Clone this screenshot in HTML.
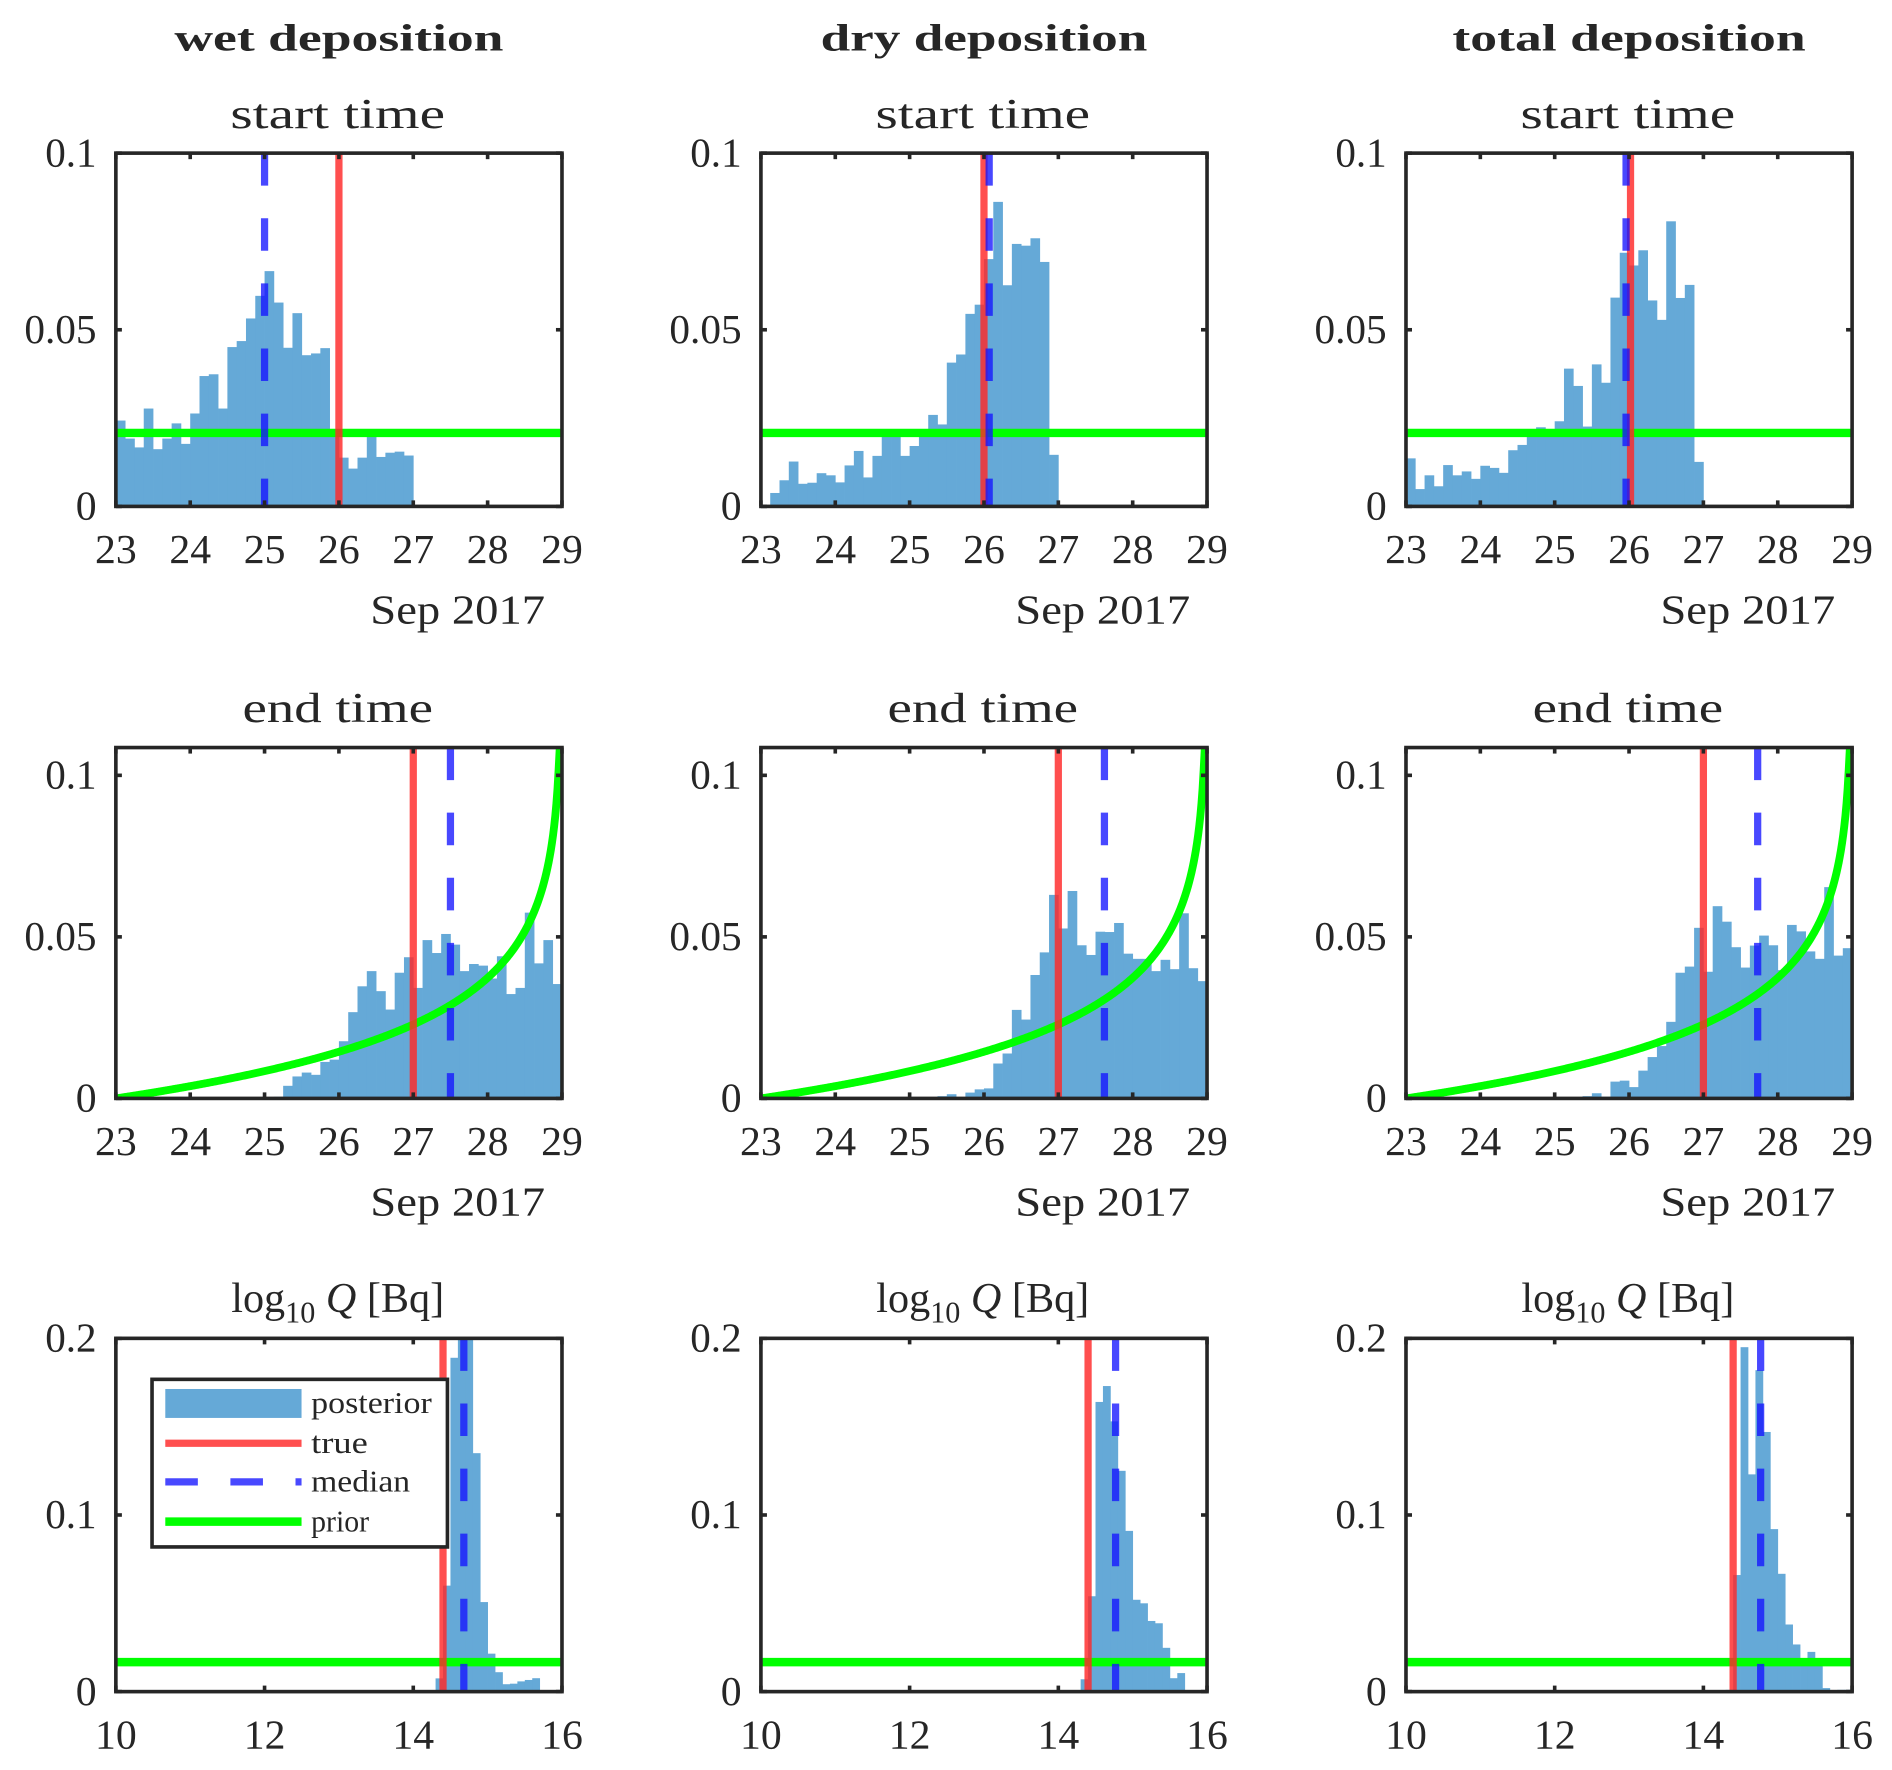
<!DOCTYPE html>
<html><head><meta charset="utf-8"><title>Deposition posterior histograms</title>
<style>
html,body{margin:0;padding:0;background:#fff;}
svg{display:block;}
text{font-family:"Liberation Serif","DejaVu Serif",serif;fill:#262626;}
</style></head>
<body>
<svg id="fig" width="1892" height="1770" viewBox="0 0 1569 1468" xmlns="http://www.w3.org/2000/svg"></svg>
<script>
// ---------- data ----------
const columnTitles = ["wet deposition", "dry deposition", "total deposition"];
const startBinStart = 23, startBinWidth = 0.125;
const startWet = [0.0243,0.0192,0.0167,0.0277,0.0162,0.0192,0.0235,0.0177,0.0263,0.0369,0.0374,0.0277,0.0451,0.0468,0.0532,0.0596,0.0666,0.0577,0.0449,0.0547,0.0428,0.0433,0.0448,0.021,0.0138,0.0107,0.0138,0.0217,0.014,0.0152,0.0155,0.0144];
const startDry = [0,0.0038,0.0074,0.0127,0.0064,0.0067,0.0094,0.0088,0.0068,0.0116,0.0157,0.0082,0.0143,0.0198,0.0198,0.0143,0.0171,0.0217,0.0259,0.0232,0.0407,0.043,0.0545,0.0571,0.07,0.0862,0.0626,0.0743,0.0738,0.0759,0.0692,0.0146];
const startTotal = [0.0136,0.0049,0.0088,0.0057,0.0117,0.0088,0.0099,0.0078,0.0115,0.0109,0.0095,0.0159,0.0174,0.0208,0.0224,0.0215,0.0241,0.039,0.0341,0.0226,0.0402,0.035,0.0591,0.0718,0.0682,0.0725,0.0583,0.0528,0.0807,0.059,0.0627,0.0126];
const startTrue = [26.0, 26.0, 26.02];
const startMedian = [25.0, 26.07, 25.96];
const startPrior = [0.0208, 0.0208, 0.0208];

const endBinStart = 25, endBinWidth = 0.125;
const endWet = [0.0003,0.0005,0.0039,0.0068,0.008,0.0073,0.0113,0.012,0.0177,0.0267,0.0347,0.0394,0.0332,0.0275,0.0389,0.0437,0.0342,0.049,0.045,0.0509,0.0476,0.0394,0.0416,0.0411,0.0371,0.044,0.0323,0.0342,0.0575,0.0418,0.049,0.0354];
const endDry = [0,0.0002,0.0003,0.0007,0.0013,0.0004,0.0018,0.0028,0.0031,0.0108,0.0139,0.0274,0.0244,0.0382,0.0452,0.063,0.0526,0.0642,0.0474,0.0444,0.0516,0.0515,0.0543,0.0448,0.0432,0.0432,0.0394,0.0429,0.04,0.0573,0.0403,0.0363];
const endTotal = [0,0.0002,0.0003,0.0007,0.0016,0.0005,0.0052,0.0055,0.0035,0.0086,0.0128,0.0162,0.0237,0.0389,0.0408,0.0528,0.0392,0.0595,0.0547,0.0468,0.0405,0.0473,0.0504,0.0474,0.0397,0.0537,0.0517,0.0455,0.0432,0.0654,0.0442,0.0465];
const endTrue = [27.0, 27.0, 27.0];
const endMedian = [27.5, 27.62, 27.73];

const qBinStart = 14.3, qBinWidth = 0.1;
const qWet = [0.0075,0.06,0.189,0.21,0.21,0.135,0.0507,0.0215,0.011,0.0042,0.0045,0.0058,0.0066,0.0076];
const qDry = [0.007,0.054,0.164,0.173,0.153,0.125,0.091,0.052,0.05,0.04,0.0387,0.0248,0.0076,0.0105];
const qTotal = [0.001,0.066,0.195,0.123,0.182,0.147,0.092,0.0667,0.038,0.0267,0.018,0.0225,0.016,0.002,0.0005,0.001,0.001];
const qTrue = [14.4, 14.4, 14.4];
const qMedian = [14.68, 14.77, 14.77];
const qPrior = [0.0167, 0.0167, 0.0167];

const dayTicks = [23,24,25,26,27,28,29];
const qTicks = [10,12,14,16];
const startYTicks = [0, 0.05, 0.1];
const startYLabels = ["0", "0.05", "0.1"];
const endYTicks = [0, 0.05, 0.1];
const endYLabels = ["0", "0.05", "0.1"];
const qYTicks = [0, 0.1, 0.2];
const qYLabels = ["0", "0.1", "0.2"];

// ---------- drawing ----------
const NS = "http://www.w3.org/2000/svg";
const svg = document.getElementById("fig");
function mk(tag, attrs, parent) {
  const e = document.createElementNS(NS, tag);
  for (const k in attrs) e.setAttribute(k, attrs[k]);
  (parent || svg).appendChild(e);
  return e;
}
function labelLen(s) {
  let w = 0;
  for (const ch of s) w += (ch === ".") ? 8 : 17.3;
  return w;
}
const colX = [96, 631, 1166], W = 370;
const rowTop = [127, 620, 1110], rowBot = [420, 911, 1403];
const HIST = "#65a9d7", RED = "rgba(255,40,40,0.82)", BLUE = "rgba(20,20,255,0.78)", GREEN = "#00ff00", AX = "#262626";
const titleLens = [273, 271, 293];

columnTitles.forEach((t, c) => {
  const el = mk("text", {x: colX[c] + W / 2, y: 42, "text-anchor": "middle", "font-size": 32, "font-weight": "bold", textLength: titleLens[c], lengthAdjust: "spacingAndGlyphs"});
  
  
  el.textContent = t;
});

function panel(c, r, opts) {
  const x0 = colX[c], x1 = x0 + W, yT = rowTop[r], yB = rowBot[r];
  const sx = v => x0 + (v - opts.xmin) / (opts.xmax - opts.xmin) * W;
  const sy = v => yB - Math.min(v, opts.ymax) / opts.ymax * (yB - yT);
  const g = mk("g", {});
  
  
  // title
  let tt;
  if (opts.log) {
    tt = mk("text", {x: x0 + W / 2 - 1, y: yT - 22, "text-anchor": "middle", "font-size": 35}, g);
    tt.innerHTML = 'log<tspan font-size="25" dy="9">10</tspan><tspan dy="-9"> </tspan><tspan font-style="italic">Q</tspan> [Bq]';
  } else {
    tt = mk("text", {x: x0 + W / 2 - 1, y: yT - 21, "text-anchor": "middle", "font-size": 35, textLength: opts.titleLen, lengthAdjust: "spacingAndGlyphs"}, g);
    tt.textContent = opts.title;
  }
  
  
  // clip
  const cid = "clip" + c + r;
  const cp = mk("clipPath", {id: cid}, g);
  mk("rect", {x: x0, y: yT, width: W, height: yB - yT}, cp);
  const plot = mk("g", {"clip-path": "url(#" + cid + ")"}, g);
  opts.bins.forEach((v, i) => {
    if (v <= 0) return;
    const a = opts.binStart + i * opts.binWidth, b = a + opts.binWidth;
    const bar = mk("rect", {x: sx(a), y: sy(v), width: sx(b) - sx(a) + 0.3, height: yB - sy(v), fill: HIST}, plot);
    
    
  });
  let pr;
  if (opts.priorCurve) {
    let d = "";
    for (let k = 0; k <= 400; k++) {
      const t = opts.xmin + (opts.xmax - opts.xmin) * k / 400 * 0.99999;
      d += (k ? "L" : "M") + sx(t).toFixed(2) + " " + sy(opts.priorCurve(t)).toFixed(2);
    }
    pr = mk("path", {d: d, fill: "none", stroke: GREEN, "stroke-width": 6.5}, plot);
  } else {
    pr = mk("line", {x1: x0, x2: x1, y1: sy(opts.prior), y2: sy(opts.prior), stroke: GREEN, "stroke-width": 7}, plot);
  }
  
  
  const tr = mk("line", {x1: sx(opts.trueV), x2: sx(opts.trueV), y1: yT, y2: yB, stroke: RED, "stroke-width": 6}, plot);
  
  
  const md = mk("line", {x1: sx(opts.median), x2: sx(opts.median), y1: yT, y2: yB, stroke: BLUE, "stroke-width": 6, "stroke-dasharray": "27 27"}, plot);
  
  
  const box = mk("rect", {x: x0, y: yT, width: W, height: yB - yT, fill: "none", stroke: AX, "stroke-width": 3}, g);
  
  
  opts.xticks.forEach(v => {
    const X = sx(v);
    mk("line", {x1: X, x2: X, y1: yB, y2: yB - 5, stroke: AX, "stroke-width": 3}, g);
    mk("line", {x1: X, x2: X, y1: yT, y2: yT + 5, stroke: AX, "stroke-width": 3}, g);
    const s = String(v);
    const lb = mk("text", {x: X, y: yB + 47, "text-anchor": "middle", "font-size": 34, textLength: labelLen(s), lengthAdjust: "spacingAndGlyphs"}, g);
    
    
    lb.textContent = s;
  });
  opts.yticks.forEach((v, i) => {
    const Y = sy(v);
    mk("line", {x1: x0, x2: x0 + 5, y1: Y, y2: Y, stroke: AX, "stroke-width": 3}, g);
    mk("line", {x1: x1, x2: x1 - 5, y1: Y, y2: Y, stroke: AX, "stroke-width": 3}, g);
    const s = opts.ylabels[i];
    const lb = mk("text", {x: x0 - 16, y: Y + 11, "text-anchor": "end", "font-size": 34, textLength: labelLen(s), lengthAdjust: "spacingAndGlyphs"}, g);
    
    
    lb.textContent = s;
  });
  if (opts.dateLabel) {
    const dl = mk("text", {x: x0 + 356, y: yB + 97, "text-anchor": "end", "font-size": 34, textLength: 145, lengthAdjust: "spacingAndGlyphs"}, g);
    
    
    dl.textContent = "Sep 2017";
  }
}

const startSets = [startWet, startDry, startTotal];
const endSets = [endWet, endDry, endTotal];
const qSets = [qWet, qDry, qTotal];
const names = ["wet", "dry", "total"];
const endPriorScale = endBinWidth / 6;
for (let c = 0; c < 3; c++) {
  panel(c, 0, {name: names[c] + "-start-time-panel", title: "start time", titleLen: 178, xmin: 23, xmax: 29, ymax: 0.1,
    bins: startSets[c], binStart: startBinStart, binWidth: startBinWidth, prior: startPrior[c],
    trueV: startTrue[c], median: startMedian[c], xticks: dayTicks, yticks: startYTicks, ylabels: startYLabels, dateLabel: true});
  panel(c, 1, {name: names[c] + "-end-time-panel", title: "end time", titleLen: 158, xmin: 23, xmax: 29, ymax: 0.1086,
    bins: endSets[c], binStart: endBinStart, binWidth: endBinWidth,
    priorCurve: t => endPriorScale * Math.log(6 / (29 - t)),
    trueV: endTrue[c], median: endMedian[c], xticks: dayTicks, yticks: endYTicks, ylabels: endYLabels, dateLabel: true});
  panel(c, 2, {name: names[c] + "-log-q-panel", log: true, xmin: 10, xmax: 16, ymax: 0.2,
    bins: qSets[c], binStart: qBinStart, binWidth: qBinWidth, prior: qPrior[c],
    trueV: qTrue[c], median: qMedian[c], xticks: qTicks, yticks: qYTicks, ylabels: qYLabels, dateLabel: false});
}

// legend
const lg = mk("g", {});


mk("rect", {x: 126, y: 1144, width: 245, height: 139, fill: "#fff", stroke: AX, "stroke-width": 3}, lg);
const legendEntries = ["posterior", "true", "median", "prior"];
const legendLens = [100, 47, 82, 48];
const legendY = [1164, 1197, 1229, 1262];
legendEntries.forEach((lab, i) => {
  const y = legendY[i];
  let sym;
  if (i === 0) sym = mk("rect", {x: 137, y: y - 12, width: 113, height: 24, fill: HIST}, lg);
  else if (i === 1) sym = mk("line", {x1: 137, x2: 250, y1: y, y2: y, stroke: RED, "stroke-width": 6}, lg);
  else if (i === 2) sym = mk("line", {x1: 137, x2: 250, y1: y, y2: y, stroke: BLUE, "stroke-width": 6, "stroke-dasharray": "27 27"}, lg);
  else sym = mk("line", {x1: 137, x2: 250, y1: y, y2: y, stroke: GREEN, "stroke-width": 7}, lg);
  
  
  const t = mk("text", {x: 258, y: y + 8, "font-size": 25, textLength: legendLens[i], lengthAdjust: "spacingAndGlyphs"}, lg);
  
  
  t.textContent = lab;
});
</script>
</body></html>
